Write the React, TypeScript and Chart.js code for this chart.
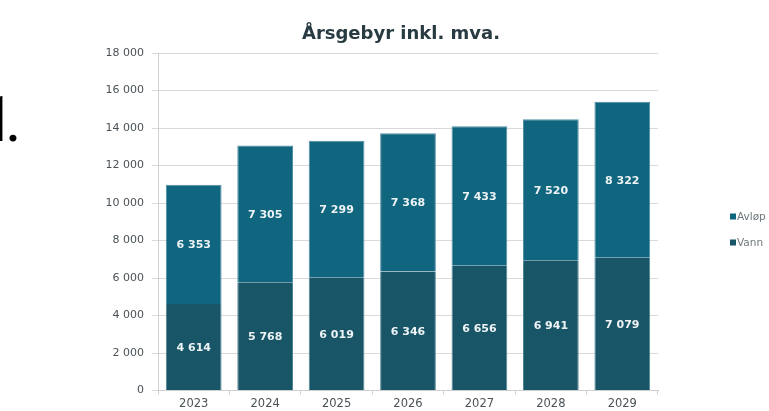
import React, { useEffect, useRef } from "react";
import { Chart, registerables } from "chart.js";

Chart.register(...registerables);

const categories = ["2023", "2024", "2025", "2026", "2027", "2028", "2029"];
const vann = [4614, 5768, 6019, 6346, 6656, 6941, 7079];
const avlop = [6353, 7305, 7299, 7368, 7433, 7520, 8322];
const seriesNames = ["Vann", "Avløp"];
const titleText = "Årsgebyr inkl. mva.";

const fmt = (v: number) => String(Math.round(v)).replace(/\B(?=(\d{3})+(?!\d))/g, " ");

const FONT = "'DejaVu Sans', Verdana, sans-serif";

const valueLabels = {
  id: "valueLabels",
  afterDatasetsDraw(chart: any) {
    const ctx = chart.ctx;
    ctx.save();
    ctx.font = `bold 11px ${FONT}`;
    ctx.fillStyle = "#eef3f5";
    ctx.textAlign = "center";
    ctx.textBaseline = "middle";
    chart.data.datasets.forEach((ds: any, di: number) => {
      const meta = chart.getDatasetMeta(di);
      meta.data.forEach((bar: any, i: number) => {
        const { x, y, base } = bar.getProps(["x", "y", "base"], true);
        ctx.fillText(fmt(ds.data[i]), x, (y + base) / 2 + 1);
      });
    });
    ctx.restore();
  },
};

const topTitle = {
  id: "topTitle",
  afterDraw(chart: any) {
    const ctx = chart.ctx;
    ctx.save();
    ctx.font = `bold 18px ${FONT}`;
    ctx.fillStyle = "#283a42";
    ctx.textAlign = "center";
    ctx.textBaseline = "alphabetic";
    ctx.fillText(titleText, chart.width / 2 + 16.5, 39);
    ctx.restore();
  },
};

const sideLegend = {
  id: "sideLegend",
  afterDraw(chart: any) {
    const ctx = chart.ctx;
    const area = chart.chartArea;
    ctx.save();
    ctx.font = `10.5px ${FONT}`;
    ctx.textBaseline = "middle";
    ctx.textAlign = "left";
    const items = chart.data.datasets.map((d: any) => ({ label: d.label, color: d.backgroundColor })).reverse();
    const x0 = area.right + 72;
    const y0 = 216.5;
    items.forEach((it: any, i: number) => {
      const y = y0 + i * 26;
      ctx.fillStyle = it.color;
      ctx.fillRect(x0, y - 3, 6, 6);
      ctx.fillStyle = "#6f787d";
      ctx.fillText(it.label, x0 + 7, y + 0.5);
    });
    ctx.restore();
  },
};

export default function App() {
  const ref = useRef<HTMLCanvasElement>(null);
  useEffect(() => {
    document.body.style.margin = "0";
    const chart = new Chart(ref.current!, {
      type: "bar",
      data: {
        labels: categories,
        datasets: [
          {
            label: seriesNames[0],
            data: vann,
            backgroundColor: "#185566",
            borderColor: "#4f8494",
            borderWidth: { left: 1, right: 1, top: 0, bottom: 0 } as any,
            borderSkipped: false,
            categoryPercentage: 1,
            barPercentage: 0.78,
          },
          {
            label: seriesNames[1],
            data: avlop,
            backgroundColor: "#10657f",
            borderColor: "#4f8ea3",
            borderWidth: 1,
            borderSkipped: "bottom",
            categoryPercentage: 1,
            barPercentage: 0.78,
          },
        ],
      },
      options: {
        animation: false,
        responsive: false,
        maintainAspectRatio: false,
        layout: { padding: { left: 0, right: 111, top: 53, bottom: 0 } },
        plugins: {
          legend: { display: false },
          tooltip: { enabled: false },
          title: { display: false },
        },
        scales: {
          x: {
            stacked: true,
            grid: { display: true, drawOnChartArea: false, drawTicks: true, tickLength: 4, color: "#cfcfcf", offset: true },
            border: { display: true, color: "#cfcfcf" },
            ticks: { color: "#4a5257", font: { family: FONT, size: 11.5 }, padding: 3 },
            afterFit: (s: any) => {
              s.height = 20.5;
            },
          },
          y: {
            stacked: true,
            min: 0,
            max: 18000,
            grid: { color: "#d9d9d9", tickLength: 6 },
            border: { display: true, color: "#cfcfcf" },
            ticks: {
              stepSize: 2000,
              color: "#4a5257",
              font: { family: FONT, size: 11 },
              padding: 8,
              callback: (v: any) => fmt(Number(v)),
            },
            afterFit: (s: any) => {
              s.width = 158;
            },
          },
        },
      },
      plugins: [valueLabels, topTitle, sideLegend],
    });
    return () => chart.destroy();
  }, []);
  return (
    <div style={{ position: "fixed", left: 0, top: 0, width: 769, height: 411, overflow: "hidden", background: "#fff" }}>
      <canvas ref={ref} width={769} height={411} style={{ display: "block" }} />
      <span style={{ position: "absolute", left: -20, top: 88, fontFamily: "Roboto, sans-serif", fontSize: 63, lineHeight: "63px", color: "#000" }}>1</span>
      <span style={{ position: "absolute", left: 5, top: 88, fontFamily: "Roboto, sans-serif", fontSize: 63, lineHeight: "63px", color: "#000" }}>.</span>
    </div>
  );
}
